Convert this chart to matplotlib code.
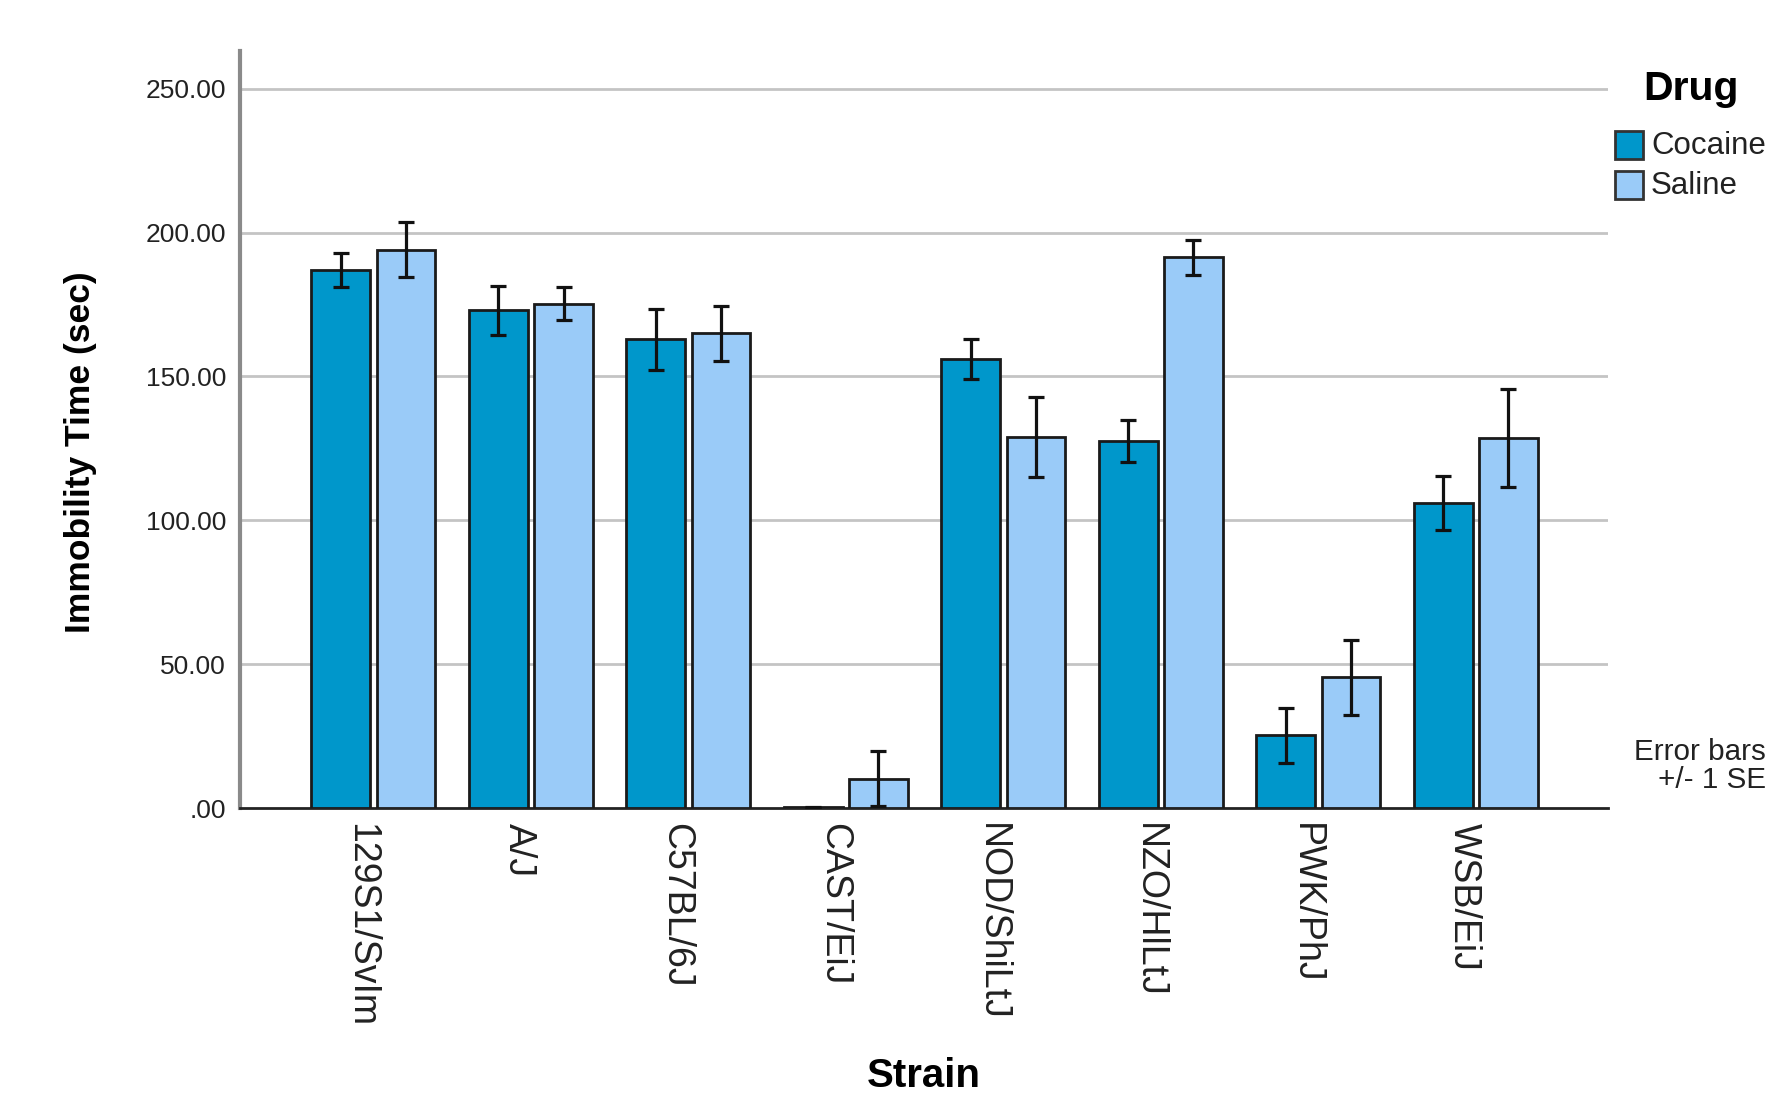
import matplotlib
matplotlib.use("Agg")
import matplotlib.pyplot as plt
from matplotlib.patches import Rectangle
import matplotlib.transforms as mtransforms
import numpy as np

# Mean immobility time per strain and drug, with standard errors
strains = ["129S1/SvIm", "A/J", "C57BL/6J", "CAST/EiJ",
           "NOD/ShiLtJ", "NZO/HlLtJ", "PWK/PhJ", "WSB/EiJ"]
cocaine_mean = [187.0, 173.0, 163.0, 0.3, 156.0, 127.5, 25.3, 106.0]
cocaine_se = [6.0, 8.6, 10.6, 0.2, 7.0, 7.3, 9.5, 9.5]
saline_mean = [194.0, 175.3, 165.0, 10.2, 129.0, 191.4, 45.5, 128.5]
saline_se = [9.5, 5.7, 9.6, 9.6, 13.8, 6.1, 13.0, 17.0]
drugs = ["Cocaine", "Saline"]
yticks = [0, 50, 100, 150, 200, 250]
ytick_labels = [".00", "50.00", "100.00", "150.00", "200.00", "250.00"]

col_cocaine = "#0097CB"
col_saline = "#9ACBF8"
edge = "#1a1a1a"
text_col = "#222222"

plt.rcParams["font.family"] = ["Liberation Sans", "DejaVu Sans"]

W, H = 1773, 1115
fig = plt.figure(figsize=(W / 100, H / 100), dpi=100)
ax = fig.add_axes([0.1354, 0.2753, 0.907 - 0.1354, 0.954 - 0.2753])

x = np.arange(len(strains))
width = 0.373
off = 0.207

ax.bar(x - off, cocaine_mean, width, color=col_cocaine, edgecolor=edge,
       linewidth=2, zorder=3)
ax.bar(x + off, saline_mean, width, color=col_saline, edgecolor=edge,
       linewidth=2, zorder=3)
ax.errorbar(x - off, cocaine_mean, yerr=cocaine_se, fmt="none", ecolor="#111111",
            elinewidth=2.3, capsize=6, capthick=2.3, zorder=4)
ax.errorbar(x + off, saline_mean, yerr=saline_se, fmt="none", ecolor="#111111",
            elinewidth=2.3, capsize=6, capthick=2.3, zorder=4)

ax.set_xlim(-0.847, 7.84)
ax.set_ylim(0, 263)
ax.set_yticks(yticks)
ax.set_yticklabels(ytick_labels, fontsize=19, color=text_col)
ax.set_xticks(x)
ax.set_xticklabels(strains, rotation=270, fontsize=27, color=text_col,
                   ha="center", va="top")
ax.tick_params(axis="both", length=0)
ax.tick_params(axis="y", pad=10)
ax.tick_params(axis="x", pad=11)
shift = mtransforms.ScaledTranslation(-0.12, 0, fig.dpi_scale_trans)
for lab in ax.get_xticklabels():
    lab.set_transform(lab.get_transform() + shift)

for v in yticks[1:]:
    ax.axhline(v, color="#c4c4c4", linewidth=2, zorder=1)

for s in ["top", "right"]:
    ax.spines[s].set_visible(False)
ax.spines["left"].set_color("#8a8a8a")
ax.spines["left"].set_linewidth(3)
ax.spines["bottom"].set_color("#222222")
ax.spines["bottom"].set_linewidth(2)

fig.text(81 / W, 1 - 452 / H, "Immobility Time (sec)", rotation=90,
         fontsize=25.5, fontweight="bold", ha="center", va="center")
fig.text(924 / W, 1 - 1076 / H, "Strain", fontsize=29,
         fontweight="bold", ha="center", va="center")

# Legend block: title, swatches and labels
fig.text(1643 / W, 1 - 89 / H, "Drug", fontsize=29.5, fontweight="bold",
         ha="left", va="center")
swatch_tops = [131, 171]
for name, col, top in zip(drugs, [col_cocaine, col_saline], swatch_tops):
    fig.add_artist(Rectangle((1615 / W, 1 - (top + 28) / H), 28 / W, 28 / H,
                             transform=fig.transFigure, facecolor=col,
                             edgecolor="#333333", linewidth=2))
    fig.text(1651 / W, 1 - (top + 15) / H, name, fontsize=22.5,
             ha="left", va="center", color=text_col)

fig.text(1766 / W, 1 - 766 / H, "Error bars\n+/- 1 SE", fontsize=21.3,
         ha="right", va="center", multialignment="right", color=text_col,
         linespacing=1.0)

fig.savefig("out.png", dpi=100, facecolor="white")
